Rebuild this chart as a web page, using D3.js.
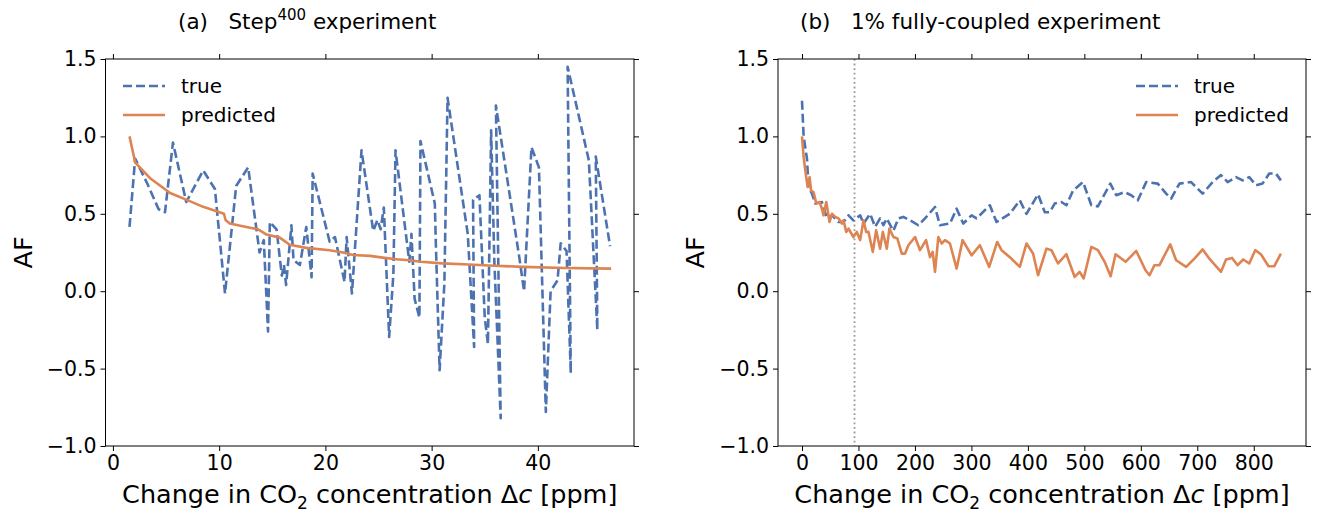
<!DOCTYPE html>
<html><head><meta charset="utf-8">
<script src="https://cdn.jsdelivr.net/npm/d3@7"></script>
<style>
html,body{margin:0;padding:0;background:#fff;}
svg text{font-family:"DejaVu Sans",sans-serif;fill:#000;}
</style></head>
<body>
<svg id="chart" width="1318" height="512"></svg>
<script>
// ---------- data ----------
const yTicks = [-1.0, -0.5, 0.0, 0.5, 1.0, 1.5];
const leftXTicks = [0, 10, 20, 30, 40];
const rightXTicks = [0, 100, 200, 300, 400, 500, 600, 700, 800];
const seriesNames = ["true", "predicted"];
const vlineValue = 93;

const leftTrueX = [1.56,2.09,3.2,4.3,4.9,5.65,6.9,8.5,9.6,10.55,11.6,12.73,13.8,14.2,14.6,14.77,15.4,15.9,16.1,16.3,16.8,17.0,17.6,18.2,18.7,18.8,20.4,20.9,21.8,22.0,22.5,23.4,24.5,24.9,25.2,25.5,26.0,26.4,26.6,27.9,28.1,28.4,28.85,28.95,30.3,30.4,30.75,31.2,31.5,33.4,34.0,33.9,34.5,35.0,35.3,35.6,35.9,36.5,36.05,38.25,38.7,39.4,40.1,40.75,41.2,41.85,42.15,42.7,43.1,42.8,44.8,45.6,45.45,46.8];
const leftTrueY = [0.415,0.856,0.7,0.53,0.51,0.96,0.576,0.78,0.66,-0.015,0.68,0.80,0.25,0.33,-0.26,0.447,0.40,0.10,0.17,0.04,0.425,0.20,0.17,0.415,0.09,0.76,0.32,0.35,0.06,0.35,-0.015,0.91,0.39,0.46,0.40,0.54,-0.295,0.11,0.91,0.19,0.37,-0.05,-0.17,0.97,0.566,0.30,-0.51,0.05,1.25,0.37,-0.36,0.59,0.62,-0.17,-0.34,1.04,0.20,-0.82,1.2,0.22,0.0,0.93,0.80,-0.78,0.0,0.07,0.31,0.26,-0.53,1.45,0.845,-0.25,0.87,0.29];
const leftPredX = [1.56,2.1,3.5,5.38,6.95,8.5,10.45,10.6,11.0,12.9,13.67,14.46,15.7,16.65,18.2,20.4,21.65,22.6,24.2,25.4,26.7,27.9,29.0,31.0,33.5,35.4,38.6,42.6,46.9];
const leftPredY = [1.0,0.83,0.73,0.634,0.59,0.545,0.50,0.46,0.437,0.41,0.40,0.366,0.346,0.30,0.28,0.265,0.25,0.234,0.228,0.217,0.206,0.20,0.19,0.18,0.172,0.166,0.157,0.15,0.146];

const rightTrueX = [0,2.9,8.8,11.7,17.7,23.5,35.3,44.2,53,64.7,73.5,82.4,91,103,108.9,120.7,129.5,138.3,144.2,150,161.8,170.7,179.5,191.3,206,217.8,235.5,244.3,262,273.8,285.5,300.3,309.2,332.7,344.5,368,385.7,397.5,418,430,438.7,447.5,459.4,468.2,479.9,497.6,512.4,524,546,556.5,571,583,594.7,609.5,630,644.9,653.7,668.4,689,709.5,727.2,742,753.7,768.5,780.2,792,803.9,815.5,827.4,839.2,848];
const rightTrueY = [1.23,1.0,0.856,0.67,0.63,0.566,0.576,0.47,0.49,0.447,0.447,0.49,0.458,0.49,0.437,0.50,0.415,0.47,0.426,0.47,0.39,0.47,0.48,0.458,0.426,0.47,0.544,0.426,0.437,0.533,0.437,0.49,0.47,0.555,0.447,0.50,0.587,0.50,0.626,0.51,0.51,0.566,0.576,0.555,0.65,0.705,0.555,0.548,0.695,0.62,0.64,0.62,0.587,0.705,0.695,0.63,0.598,0.695,0.705,0.63,0.705,0.75,0.705,0.737,0.716,0.737,0.684,0.695,0.76,0.76,0.716];
const rightPredX = [0,2.9,5.8,10,13.5,16,20.5,25.3,31.1,35.3,38.2,43,48.8,53,58.8,64.7,70.7,73.5,78.3,82.4,91,97,103,108.9,113.6,117.7,125.4,131.3,138.3,143.1,150.2,154.8,161.8,168.9,176.7,182.5,188.4,200.2,209,219.6,226.7,231.4,235.5,241.4,247.3,253.2,262,273.8,284.4,300.3,315,331.5,345.6,353.4,368,385.7,397.5,409.2,418,432.9,441.7,453.4,468.2,482.9,491.7,498.8,512.4,524,535.9,546.5,555.3,573,591.9,608.3,615.4,624.2,633,652,662.5,680.2,694.9,709.5,721.4,742,750.9,761.5,771.4,781.4,792,802.6,812.7,826.2,836.2,848];
const rightPredY = [1.0,0.866,0.78,0.673,0.737,0.65,0.64,0.566,0.576,0.533,0.49,0.576,0.447,0.50,0.48,0.47,0.437,0.458,0.383,0.404,0.35,0.383,0.33,0.458,0.383,0.383,0.254,0.394,0.275,0.383,0.275,0.404,0.35,0.34,0.243,0.243,0.297,0.35,0.265,0.33,0.22,0.254,0.125,0.35,0.308,0.33,0.308,0.146,0.33,0.232,0.297,0.157,0.318,0.265,0.22,0.157,0.308,0.243,0.103,0.275,0.265,0.179,0.239,0.092,0.125,0.082,0.286,0.265,0.19,0.097,0.239,0.19,0.26,0.135,0.103,0.168,0.168,0.303,0.2,0.157,0.21,0.27,0.21,0.125,0.205,0.215,0.168,0.205,0.179,0.265,0.239,0.161,0.161,0.243];

// ---------- styles ----------
const BLUE = "#4C72B0", ORANGE = "#DD8452";
const DASH = "9,4";
const svg = d3.select("#chart");
svg.append("rect").attr("width",1318).attr("height",512).attr("fill","#fff");

const plotTop = 59, plotBottom = 446;

function fmtY(d){ return (d < 0 ? "\u2212" : "") + Math.abs(d).toFixed(1); }

function panel(cfg){
  const x = d3.scaleLinear().domain(cfg.xDomain).range([cfg.left, cfg.right]);
  const y = d3.scaleLinear().domain([-1.0, 1.5]).range([plotBottom, plotTop]);
  const g = svg.append("g");

  const axes = [
    [d3.axisBottom(x).tickValues(cfg.xTicks).tickFormat(d3.format("d")), `translate(0,${plotBottom})`],
    [d3.axisTop(x).tickValues(cfg.xTicks).tickFormat(""), `translate(0,${plotTop})`],
    [d3.axisLeft(y).tickValues(yTicks).tickFormat(fmtY), `translate(${cfg.left},0)`],
    [d3.axisRight(y).tickValues(yTicks).tickFormat(""), `translate(${cfg.right},0)`]
  ];
  axes.forEach(([ax, tr]) => {
    const a = g.append("g").attr("transform", tr)
      .call(ax.tickSize(5).tickSizeOuter(0).tickPadding(4));
    a.select(".domain").remove();
    a.selectAll("line").attr("stroke","#000").attr("stroke-width",1);
    a.selectAll("text").attr("font-size",20.5).attr("font-family","DejaVu Sans").attr("fill","#000");
  });

  if (cfg.vline !== undefined){
    g.append("line").attr("x1",x(cfg.vline)).attr("x2",x(cfg.vline))
      .attr("y1",plotTop).attr("y2",plotBottom)
      .attr("stroke","#999").attr("stroke-width",1.8).attr("stroke-dasharray","1.8,2.8");
  }

  const line = d3.line().x(d=>x(d[0])).y(d=>y(d[1]));
  const clipId = "clip"+cfg.id;
  svg.append("clipPath").attr("id",clipId).append("rect")
    .attr("x",cfg.left).attr("y",plotTop).attr("width",cfg.right-cfg.left).attr("height",plotBottom-plotTop);
  const lg = g.append("g").attr("clip-path",`url(#${clipId})`);
  lg.append("path").datum(d3.zip(cfg.tx, cfg.ty)).attr("d",line)
    .attr("fill","none").attr("stroke",BLUE).attr("stroke-width",2.6)
    .attr("stroke-dasharray",DASH).attr("stroke-linejoin","round");
  lg.append("path").datum(d3.zip(cfg.px, cfg.py)).attr("d",line)
    .attr("fill","none").attr("stroke",ORANGE).attr("stroke-width",2.6)
    .attr("stroke-linejoin","round");

  g.append("rect").attr("x",cfg.left).attr("y",plotTop)
    .attr("width",cfg.right-cfg.left).attr("height",plotBottom-plotTop)
    .attr("fill","none").attr("stroke","#000").attr("stroke-width",1);

  const L = cfg.legend;
  [[BLUE,DASH],[ORANGE,null]].forEach((s,i)=>{
    const yy = L.y + i*29;
    const ln = g.append("line").attr("x1",L.x).attr("x2",L.x+42).attr("y1",yy).attr("y2",yy)
      .attr("stroke",s[0]).attr("stroke-width",2.6);
    if (s[1]) ln.attr("stroke-dasharray",s[1]);
    g.append("text").attr("x",L.x+58).attr("y",yy+7).attr("font-size",20).text(seriesNames[i]);
  });

  const xl = g.append("text").attr("x",(cfg.left+cfg.right)/2).attr("y",503)
    .attr("text-anchor","middle").attr("font-size",25.5);
  xl.append("tspan").text("Change in CO");
  xl.append("tspan").attr("font-size",17).attr("dy",6).text("2");
  xl.append("tspan").attr("dy",-6).text(" concentration \u0394");
  xl.append("tspan").attr("font-style","italic").text("c");
  xl.append("tspan").text(" [ppm]");

  g.append("text").attr("transform",`translate(${cfg.left-74},${(plotTop+plotBottom)/2}) rotate(-90)`)
    .attr("text-anchor","middle").attr("font-size",25.5).text("AF");

  const t = g.append("text").attr("x",cfg.titleX).attr("y",29).attr("font-size",cfg.titleSize);
  cfg.title(t);
}

panel({
  id:"a", left:105.5, right:634, xDomain:[-0.7,49.05], xTicks:leftXTicks,
  tx:leftTrueX, ty:leftTrueY, px:leftPredX, py:leftPredY,
  legend:{x:123, y:86}, titleX:178, titleSize:21.5,
  title: t => {
    t.append("tspan").text("(a)\u00a0\u00a0\u00a0Step");
    t.append("tspan").attr("font-size",15).attr("dy",-9).text("400");
    t.append("tspan").attr("dy",9).text(" experiment");
  }
});
panel({
  id:"b", left:778, right:1306, xDomain:[-42.5,892.5], xTicks:rightXTicks,
  tx:rightTrueX, ty:rightTrueY, px:rightPredX, py:rightPredY, vline:vlineValue,
  legend:{x:1136, y:86}, titleX:800, titleSize:21.5,
  title: t => { t.append("tspan").text("(b)\u00a0\u00a0\u00a01% fully-coupled experiment"); }
});
</script>
</body></html>
